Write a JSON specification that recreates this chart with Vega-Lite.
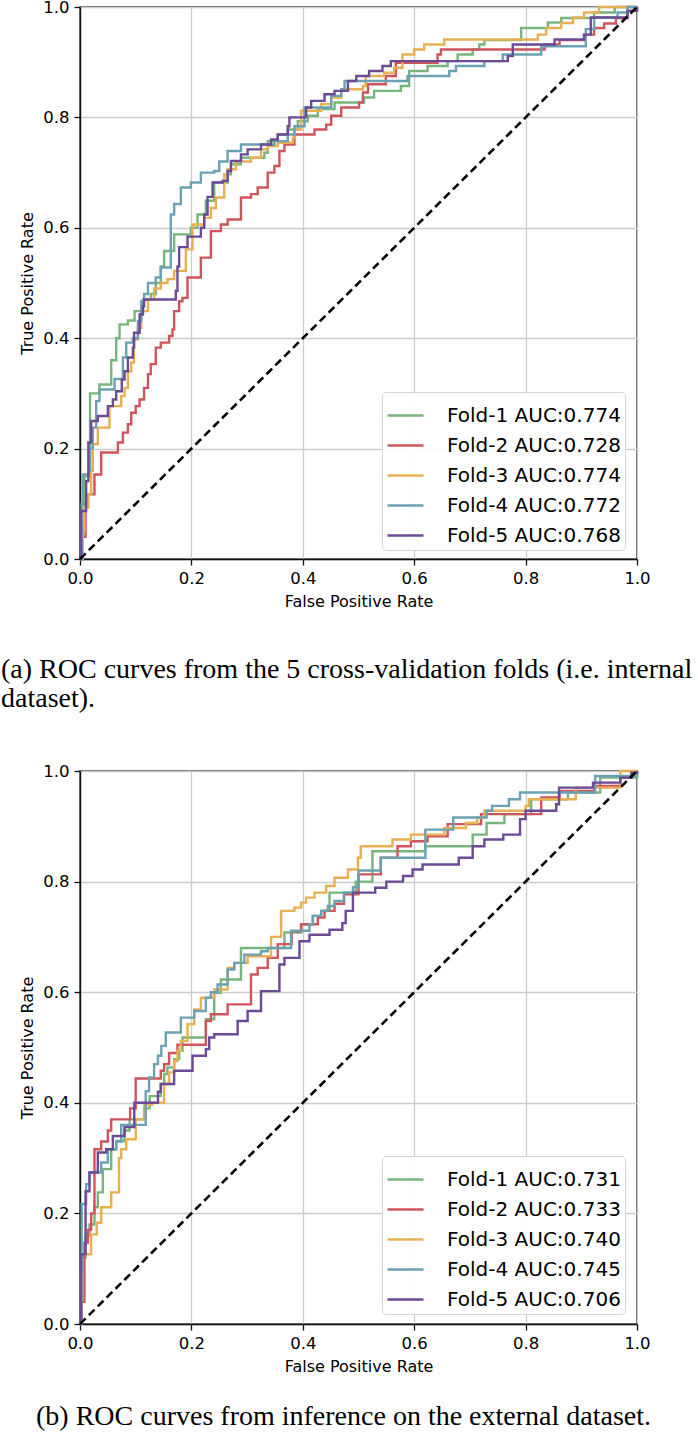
{
  "$schema": "https://vega.github.io/schema/vega-lite/v6.json",
  "padding": {"left": 0, "top": -2, "right": 0, "bottom": 0},
  "background": "white",
  "config": {
    "font": "DejaVu Sans",
    "view": {"stroke": "#333333", "strokeWidth": 1.5},
    "axis": {
      "grid": true, "gridColor": "#cccccc", "gridWidth": 1.3,
      "domain": true, "domainColor": "#111111", "domainWidth": 1.4,
      "tickColor": "#111111", "tickSize": 6, "tickWidth": 1.3,
      "labelFont": "DejaVu Sans", "labelFontSize": 16.5, "labelColor": "#000000", "labelPadding": 5, "labelFlush": false,
      "titleFont": "DejaVu Sans", "titleFontSize": 16, "titleFontWeight": "normal", "titleColor": "#000000"
    },
    "legend": {
      "orient": "none", "legendX": 302, "legendY": 385,
      "labelFont": "DejaVu Sans", "labelFontSize": 20, "labelColor": "#000000", "labelLimit": 400,
      "symbolType": "stroke", "symbolSize": 1296, "symbolStrokeWidth": 2.6,
      "labelOffset": 22, "rowPadding": -6.8, "padding": 4,
      "fillColor": "rgba(255,255,255,0.9)", "strokeColor": "#d4d4d4", "cornerRadius": 4
    },
    "title": {"font": "Liberation Serif", "fontWeight": "normal", "color": "#000000", "frame": "group"}
  },
  "datasets": {
    "diag": [{"fpr": 0, "tpr": 0}, {"fpr": 1, "tpr": 1}],
    "a": [
      {"fold": "Fold-1 AUC:0.774", "fpr": 0, "tpr": 0},
      {"fold": "Fold-1 AUC:0.774", "fpr": 0.005, "tpr": 0.06},
      {"fold": "Fold-1 AUC:0.774", "fpr": 0.008, "tpr": 0.15},
      {"fold": "Fold-1 AUC:0.774", "fpr": 0.018, "tpr": 0.30},
      {"fold": "Fold-1 AUC:0.774", "fpr": 0.035, "tpr": 0.316},
      {"fold": "Fold-1 AUC:0.774", "fpr": 0.056, "tpr": 0.36},
      {"fold": "Fold-1 AUC:0.774", "fpr": 0.065, "tpr": 0.40},
      {"fold": "Fold-1 AUC:0.774", "fpr": 0.071, "tpr": 0.425},
      {"fold": "Fold-1 AUC:0.774", "fpr": 0.086, "tpr": 0.432},
      {"fold": "Fold-1 AUC:0.774", "fpr": 0.098, "tpr": 0.449},
      {"fold": "Fold-1 AUC:0.774", "fpr": 0.113, "tpr": 0.47},
      {"fold": "Fold-1 AUC:0.774", "fpr": 0.127, "tpr": 0.48},
      {"fold": "Fold-1 AUC:0.774", "fpr": 0.136, "tpr": 0.50},
      {"fold": "Fold-1 AUC:0.774", "fpr": 0.145, "tpr": 0.53},
      {"fold": "Fold-1 AUC:0.774", "fpr": 0.151, "tpr": 0.558},
      {"fold": "Fold-1 AUC:0.774", "fpr": 0.169, "tpr": 0.588},
      {"fold": "Fold-1 AUC:0.774", "fpr": 0.199, "tpr": 0.60},
      {"fold": "Fold-1 AUC:0.774", "fpr": 0.211, "tpr": 0.624},
      {"fold": "Fold-1 AUC:0.774", "fpr": 0.226, "tpr": 0.649},
      {"fold": "Fold-1 AUC:0.774", "fpr": 0.241, "tpr": 0.682},
      {"fold": "Fold-1 AUC:0.774", "fpr": 0.265, "tpr": 0.697},
      {"fold": "Fold-1 AUC:0.774", "fpr": 0.271, "tpr": 0.715},
      {"fold": "Fold-1 AUC:0.774", "fpr": 0.289, "tpr": 0.727},
      {"fold": "Fold-1 AUC:0.774", "fpr": 0.331, "tpr": 0.736},
      {"fold": "Fold-1 AUC:0.774", "fpr": 0.337, "tpr": 0.757},
      {"fold": "Fold-1 AUC:0.774", "fpr": 0.355, "tpr": 0.769},
      {"fold": "Fold-1 AUC:0.774", "fpr": 0.373, "tpr": 0.778},
      {"fold": "Fold-1 AUC:0.774", "fpr": 0.391, "tpr": 0.793},
      {"fold": "Fold-1 AUC:0.774", "fpr": 0.409, "tpr": 0.803},
      {"fold": "Fold-1 AUC:0.774", "fpr": 0.427, "tpr": 0.815},
      {"fold": "Fold-1 AUC:0.774", "fpr": 0.457, "tpr": 0.827},
      {"fold": "Fold-1 AUC:0.774", "fpr": 0.51, "tpr": 0.836},
      {"fold": "Fold-1 AUC:0.774", "fpr": 0.528, "tpr": 0.848},
      {"fold": "Fold-1 AUC:0.774", "fpr": 0.576, "tpr": 0.857},
      {"fold": "Fold-1 AUC:0.774", "fpr": 0.591, "tpr": 0.884},
      {"fold": "Fold-1 AUC:0.774", "fpr": 0.624, "tpr": 0.893},
      {"fold": "Fold-1 AUC:0.774", "fpr": 0.66, "tpr": 0.902},
      {"fold": "Fold-1 AUC:0.774", "fpr": 0.678, "tpr": 0.914},
      {"fold": "Fold-1 AUC:0.774", "fpr": 0.705, "tpr": 0.923},
      {"fold": "Fold-1 AUC:0.774", "fpr": 0.717, "tpr": 0.932},
      {"fold": "Fold-1 AUC:0.774", "fpr": 0.726, "tpr": 0.94},
      {"fold": "Fold-1 AUC:0.774", "fpr": 0.792, "tpr": 0.962},
      {"fold": "Fold-1 AUC:0.774", "fpr": 0.84, "tpr": 0.972},
      {"fold": "Fold-1 AUC:0.774", "fpr": 0.864, "tpr": 0.98},
      {"fold": "Fold-1 AUC:0.774", "fpr": 0.923, "tpr": 0.99},
      {"fold": "Fold-1 AUC:0.774", "fpr": 0.96, "tpr": 1.0},
      {"fold": "Fold-1 AUC:0.774", "fpr": 1, "tpr": 1},

      {"fold": "Fold-2 AUC:0.728", "fpr": 0, "tpr": 0},
      {"fold": "Fold-2 AUC:0.728", "fpr": 0.005, "tpr": 0.04},
      {"fold": "Fold-2 AUC:0.728", "fpr": 0.01, "tpr": 0.10},
      {"fold": "Fold-2 AUC:0.728", "fpr": 0.014, "tpr": 0.117},
      {"fold": "Fold-2 AUC:0.728", "fpr": 0.026, "tpr": 0.153},
      {"fold": "Fold-2 AUC:0.728", "fpr": 0.038, "tpr": 0.193},
      {"fold": "Fold-2 AUC:0.728", "fpr": 0.068, "tpr": 0.211},
      {"fold": "Fold-2 AUC:0.728", "fpr": 0.077, "tpr": 0.229},
      {"fold": "Fold-2 AUC:0.728", "fpr": 0.086, "tpr": 0.244},
      {"fold": "Fold-2 AUC:0.728", "fpr": 0.092, "tpr": 0.265},
      {"fold": "Fold-2 AUC:0.728", "fpr": 0.10, "tpr": 0.277},
      {"fold": "Fold-2 AUC:0.728", "fpr": 0.107, "tpr": 0.289},
      {"fold": "Fold-2 AUC:0.728", "fpr": 0.115, "tpr": 0.31},
      {"fold": "Fold-2 AUC:0.728", "fpr": 0.122, "tpr": 0.335},
      {"fold": "Fold-2 AUC:0.728", "fpr": 0.127, "tpr": 0.353},
      {"fold": "Fold-2 AUC:0.728", "fpr": 0.136, "tpr": 0.383},
      {"fold": "Fold-2 AUC:0.728", "fpr": 0.145, "tpr": 0.392},
      {"fold": "Fold-2 AUC:0.728", "fpr": 0.16, "tpr": 0.404},
      {"fold": "Fold-2 AUC:0.728", "fpr": 0.166, "tpr": 0.416},
      {"fold": "Fold-2 AUC:0.728", "fpr": 0.169, "tpr": 0.449},
      {"fold": "Fold-2 AUC:0.728", "fpr": 0.178, "tpr": 0.467},
      {"fold": "Fold-2 AUC:0.728", "fpr": 0.184, "tpr": 0.473},
      {"fold": "Fold-2 AUC:0.728", "fpr": 0.193, "tpr": 0.51},
      {"fold": "Fold-2 AUC:0.728", "fpr": 0.217, "tpr": 0.546},
      {"fold": "Fold-2 AUC:0.728", "fpr": 0.235, "tpr": 0.594},
      {"fold": "Fold-2 AUC:0.728", "fpr": 0.253, "tpr": 0.606},
      {"fold": "Fold-2 AUC:0.728", "fpr": 0.265, "tpr": 0.615},
      {"fold": "Fold-2 AUC:0.728", "fpr": 0.289, "tpr": 0.655},
      {"fold": "Fold-2 AUC:0.728", "fpr": 0.307, "tpr": 0.661},
      {"fold": "Fold-2 AUC:0.728", "fpr": 0.319, "tpr": 0.673},
      {"fold": "Fold-2 AUC:0.728", "fpr": 0.337, "tpr": 0.70},
      {"fold": "Fold-2 AUC:0.728", "fpr": 0.349, "tpr": 0.712},
      {"fold": "Fold-2 AUC:0.728", "fpr": 0.358, "tpr": 0.739},
      {"fold": "Fold-2 AUC:0.728", "fpr": 0.367, "tpr": 0.751},
      {"fold": "Fold-2 AUC:0.728", "fpr": 0.385, "tpr": 0.769},
      {"fold": "Fold-2 AUC:0.728", "fpr": 0.421, "tpr": 0.778},
      {"fold": "Fold-2 AUC:0.728", "fpr": 0.442, "tpr": 0.787},
      {"fold": "Fold-2 AUC:0.728", "fpr": 0.451, "tpr": 0.803},
      {"fold": "Fold-2 AUC:0.728", "fpr": 0.469, "tpr": 0.818},
      {"fold": "Fold-2 AUC:0.728", "fpr": 0.501, "tpr": 0.827},
      {"fold": "Fold-2 AUC:0.728", "fpr": 0.508, "tpr": 0.845},
      {"fold": "Fold-2 AUC:0.728", "fpr": 0.517, "tpr": 0.86},
      {"fold": "Fold-2 AUC:0.728", "fpr": 0.549, "tpr": 0.875},
      {"fold": "Fold-2 AUC:0.728", "fpr": 0.567, "tpr": 0.899},
      {"fold": "Fold-2 AUC:0.728", "fpr": 0.642, "tpr": 0.914},
      {"fold": "Fold-2 AUC:0.728", "fpr": 0.648, "tpr": 0.923},
      {"fold": "Fold-2 AUC:0.728", "fpr": 0.834, "tpr": 0.932},
      {"fold": "Fold-2 AUC:0.728", "fpr": 0.861, "tpr": 0.94},
      {"fold": "Fold-2 AUC:0.728", "fpr": 0.905, "tpr": 0.95},
      {"fold": "Fold-2 AUC:0.728", "fpr": 0.923, "tpr": 0.962},
      {"fold": "Fold-2 AUC:0.728", "fpr": 0.941, "tpr": 0.97},
      {"fold": "Fold-2 AUC:0.728", "fpr": 0.962, "tpr": 0.98},
      {"fold": "Fold-2 AUC:0.728", "fpr": 0.983, "tpr": 0.993},
      {"fold": "Fold-2 AUC:0.728", "fpr": 1, "tpr": 1},

      {"fold": "Fold-3 AUC:0.774", "fpr": 0, "tpr": 0},
      {"fold": "Fold-3 AUC:0.774", "fpr": 0.005, "tpr": 0.05},
      {"fold": "Fold-3 AUC:0.774", "fpr": 0.008, "tpr": 0.093},
      {"fold": "Fold-3 AUC:0.774", "fpr": 0.015, "tpr": 0.117},
      {"fold": "Fold-3 AUC:0.774", "fpr": 0.02, "tpr": 0.16},
      {"fold": "Fold-3 AUC:0.774", "fpr": 0.023, "tpr": 0.208},
      {"fold": "Fold-3 AUC:0.774", "fpr": 0.032, "tpr": 0.238},
      {"fold": "Fold-3 AUC:0.774", "fpr": 0.053, "tpr": 0.277},
      {"fold": "Fold-3 AUC:0.774", "fpr": 0.074, "tpr": 0.295},
      {"fold": "Fold-3 AUC:0.774", "fpr": 0.08, "tpr": 0.31},
      {"fold": "Fold-3 AUC:0.774", "fpr": 0.086, "tpr": 0.34},
      {"fold": "Fold-3 AUC:0.774", "fpr": 0.092, "tpr": 0.356},
      {"fold": "Fold-3 AUC:0.774", "fpr": 0.097, "tpr": 0.398},
      {"fold": "Fold-3 AUC:0.774", "fpr": 0.104, "tpr": 0.419},
      {"fold": "Fold-3 AUC:0.774", "fpr": 0.11, "tpr": 0.449},
      {"fold": "Fold-3 AUC:0.774", "fpr": 0.122, "tpr": 0.47},
      {"fold": "Fold-3 AUC:0.774", "fpr": 0.133, "tpr": 0.49},
      {"fold": "Fold-3 AUC:0.774", "fpr": 0.145, "tpr": 0.50},
      {"fold": "Fold-3 AUC:0.774", "fpr": 0.157, "tpr": 0.507},
      {"fold": "Fold-3 AUC:0.774", "fpr": 0.169, "tpr": 0.522},
      {"fold": "Fold-3 AUC:0.774", "fpr": 0.19, "tpr": 0.561},
      {"fold": "Fold-3 AUC:0.774", "fpr": 0.202, "tpr": 0.606},
      {"fold": "Fold-3 AUC:0.774", "fpr": 0.223, "tpr": 0.618},
      {"fold": "Fold-3 AUC:0.774", "fpr": 0.235, "tpr": 0.636},
      {"fold": "Fold-3 AUC:0.774", "fpr": 0.244, "tpr": 0.655},
      {"fold": "Fold-3 AUC:0.774", "fpr": 0.259, "tpr": 0.697},
      {"fold": "Fold-3 AUC:0.774", "fpr": 0.265, "tpr": 0.706},
      {"fold": "Fold-3 AUC:0.774", "fpr": 0.28, "tpr": 0.72},
      {"fold": "Fold-3 AUC:0.774", "fpr": 0.307, "tpr": 0.727},
      {"fold": "Fold-3 AUC:0.774", "fpr": 0.325, "tpr": 0.742},
      {"fold": "Fold-3 AUC:0.774", "fpr": 0.337, "tpr": 0.748},
      {"fold": "Fold-3 AUC:0.774", "fpr": 0.355, "tpr": 0.754},
      {"fold": "Fold-3 AUC:0.774", "fpr": 0.382, "tpr": 0.763},
      {"fold": "Fold-3 AUC:0.774", "fpr": 0.385, "tpr": 0.778},
      {"fold": "Fold-3 AUC:0.774", "fpr": 0.397, "tpr": 0.812},
      {"fold": "Fold-3 AUC:0.774", "fpr": 0.433, "tpr": 0.824},
      {"fold": "Fold-3 AUC:0.774", "fpr": 0.451, "tpr": 0.836},
      {"fold": "Fold-3 AUC:0.774", "fpr": 0.469, "tpr": 0.851},
      {"fold": "Fold-3 AUC:0.774", "fpr": 0.508, "tpr": 0.857},
      {"fold": "Fold-3 AUC:0.774", "fpr": 0.513, "tpr": 0.875},
      {"fold": "Fold-3 AUC:0.774", "fpr": 0.546, "tpr": 0.881},
      {"fold": "Fold-3 AUC:0.774", "fpr": 0.564, "tpr": 0.89},
      {"fold": "Fold-3 AUC:0.774", "fpr": 0.579, "tpr": 0.914},
      {"fold": "Fold-3 AUC:0.774", "fpr": 0.6, "tpr": 0.923},
      {"fold": "Fold-3 AUC:0.774", "fpr": 0.618, "tpr": 0.932},
      {"fold": "Fold-3 AUC:0.774", "fpr": 0.654, "tpr": 0.941},
      {"fold": "Fold-3 AUC:0.774", "fpr": 0.822, "tpr": 0.95},
      {"fold": "Fold-3 AUC:0.774", "fpr": 0.837, "tpr": 0.962},
      {"fold": "Fold-3 AUC:0.774", "fpr": 0.864, "tpr": 0.971},
      {"fold": "Fold-3 AUC:0.774", "fpr": 0.885, "tpr": 0.981},
      {"fold": "Fold-3 AUC:0.774", "fpr": 0.905, "tpr": 0.99},
      {"fold": "Fold-3 AUC:0.774", "fpr": 0.932, "tpr": 1.0},
      {"fold": "Fold-3 AUC:0.774", "fpr": 1, "tpr": 1},

      {"fold": "Fold-4 AUC:0.772", "fpr": 0, "tpr": 0},
      {"fold": "Fold-4 AUC:0.772", "fpr": 0.003, "tpr": 0.10},
      {"fold": "Fold-4 AUC:0.772", "fpr": 0.005, "tpr": 0.153},
      {"fold": "Fold-4 AUC:0.772", "fpr": 0.015, "tpr": 0.16},
      {"fold": "Fold-4 AUC:0.772", "fpr": 0.018, "tpr": 0.20},
      {"fold": "Fold-4 AUC:0.772", "fpr": 0.023, "tpr": 0.238},
      {"fold": "Fold-4 AUC:0.772", "fpr": 0.029, "tpr": 0.286},
      {"fold": "Fold-4 AUC:0.772", "fpr": 0.035, "tpr": 0.307},
      {"fold": "Fold-4 AUC:0.772", "fpr": 0.062, "tpr": 0.326},
      {"fold": "Fold-4 AUC:0.772", "fpr": 0.077, "tpr": 0.365},
      {"fold": "Fold-4 AUC:0.772", "fpr": 0.083, "tpr": 0.392},
      {"fold": "Fold-4 AUC:0.772", "fpr": 0.095, "tpr": 0.40},
      {"fold": "Fold-4 AUC:0.772", "fpr": 0.104, "tpr": 0.431},
      {"fold": "Fold-4 AUC:0.772", "fpr": 0.11, "tpr": 0.467},
      {"fold": "Fold-4 AUC:0.772", "fpr": 0.115, "tpr": 0.48},
      {"fold": "Fold-4 AUC:0.772", "fpr": 0.122, "tpr": 0.50},
      {"fold": "Fold-4 AUC:0.772", "fpr": 0.136, "tpr": 0.51},
      {"fold": "Fold-4 AUC:0.772", "fpr": 0.145, "tpr": 0.528},
      {"fold": "Fold-4 AUC:0.772", "fpr": 0.163, "tpr": 0.624},
      {"fold": "Fold-4 AUC:0.772", "fpr": 0.169, "tpr": 0.643},
      {"fold": "Fold-4 AUC:0.772", "fpr": 0.181, "tpr": 0.673},
      {"fold": "Fold-4 AUC:0.772", "fpr": 0.199, "tpr": 0.682},
      {"fold": "Fold-4 AUC:0.772", "fpr": 0.217, "tpr": 0.70},
      {"fold": "Fold-4 AUC:0.772", "fpr": 0.241, "tpr": 0.703},
      {"fold": "Fold-4 AUC:0.772", "fpr": 0.25, "tpr": 0.72},
      {"fold": "Fold-4 AUC:0.772", "fpr": 0.265, "tpr": 0.739},
      {"fold": "Fold-4 AUC:0.772", "fpr": 0.289, "tpr": 0.751},
      {"fold": "Fold-4 AUC:0.772", "fpr": 0.349, "tpr": 0.757},
      {"fold": "Fold-4 AUC:0.772", "fpr": 0.373, "tpr": 0.769},
      {"fold": "Fold-4 AUC:0.772", "fpr": 0.385, "tpr": 0.784},
      {"fold": "Fold-4 AUC:0.772", "fpr": 0.403, "tpr": 0.818},
      {"fold": "Fold-4 AUC:0.772", "fpr": 0.451, "tpr": 0.839},
      {"fold": "Fold-4 AUC:0.772", "fpr": 0.469, "tpr": 0.851},
      {"fold": "Fold-4 AUC:0.772", "fpr": 0.475, "tpr": 0.866},
      {"fold": "Fold-4 AUC:0.772", "fpr": 0.588, "tpr": 0.875},
      {"fold": "Fold-4 AUC:0.772", "fpr": 0.663, "tpr": 0.884},
      {"fold": "Fold-4 AUC:0.772", "fpr": 0.675, "tpr": 0.893},
      {"fold": "Fold-4 AUC:0.772", "fpr": 0.726, "tpr": 0.902},
      {"fold": "Fold-4 AUC:0.772", "fpr": 0.759, "tpr": 0.914},
      {"fold": "Fold-4 AUC:0.772", "fpr": 0.828, "tpr": 0.929},
      {"fold": "Fold-4 AUC:0.772", "fpr": 0.908, "tpr": 0.96},
      {"fold": "Fold-4 AUC:0.772", "fpr": 0.923, "tpr": 0.981},
      {"fold": "Fold-4 AUC:0.772", "fpr": 0.965, "tpr": 0.99},
      {"fold": "Fold-4 AUC:0.772", "fpr": 0.983, "tpr": 1.0},
      {"fold": "Fold-4 AUC:0.772", "fpr": 1, "tpr": 1},

      {"fold": "Fold-5 AUC:0.768", "fpr": 0, "tpr": 0},
      {"fold": "Fold-5 AUC:0.768", "fpr": 0.002, "tpr": 0.087},
      {"fold": "Fold-5 AUC:0.768", "fpr": 0.011, "tpr": 0.141},
      {"fold": "Fold-5 AUC:0.768", "fpr": 0.015, "tpr": 0.211},
      {"fold": "Fold-5 AUC:0.768", "fpr": 0.02, "tpr": 0.25},
      {"fold": "Fold-5 AUC:0.768", "fpr": 0.032, "tpr": 0.259},
      {"fold": "Fold-5 AUC:0.768", "fpr": 0.05, "tpr": 0.277},
      {"fold": "Fold-5 AUC:0.768", "fpr": 0.059, "tpr": 0.289},
      {"fold": "Fold-5 AUC:0.768", "fpr": 0.065, "tpr": 0.304},
      {"fold": "Fold-5 AUC:0.768", "fpr": 0.075, "tpr": 0.325},
      {"fold": "Fold-5 AUC:0.768", "fpr": 0.08, "tpr": 0.34},
      {"fold": "Fold-5 AUC:0.768", "fpr": 0.086, "tpr": 0.365},
      {"fold": "Fold-5 AUC:0.768", "fpr": 0.095, "tpr": 0.383},
      {"fold": "Fold-5 AUC:0.768", "fpr": 0.097, "tpr": 0.41},
      {"fold": "Fold-5 AUC:0.768", "fpr": 0.107, "tpr": 0.443},
      {"fold": "Fold-5 AUC:0.768", "fpr": 0.113, "tpr": 0.458},
      {"fold": "Fold-5 AUC:0.768", "fpr": 0.115, "tpr": 0.47},
      {"fold": "Fold-5 AUC:0.768", "fpr": 0.172, "tpr": 0.486},
      {"fold": "Fold-5 AUC:0.768", "fpr": 0.175, "tpr": 0.53},
      {"fold": "Fold-5 AUC:0.768", "fpr": 0.178, "tpr": 0.565},
      {"fold": "Fold-5 AUC:0.768", "fpr": 0.193, "tpr": 0.584},
      {"fold": "Fold-5 AUC:0.768", "fpr": 0.217, "tpr": 0.60},
      {"fold": "Fold-5 AUC:0.768", "fpr": 0.223, "tpr": 0.624},
      {"fold": "Fold-5 AUC:0.768", "fpr": 0.229, "tpr": 0.656},
      {"fold": "Fold-5 AUC:0.768", "fpr": 0.238, "tpr": 0.682},
      {"fold": "Fold-5 AUC:0.768", "fpr": 0.256, "tpr": 0.685},
      {"fold": "Fold-5 AUC:0.768", "fpr": 0.265, "tpr": 0.703},
      {"fold": "Fold-5 AUC:0.768", "fpr": 0.271, "tpr": 0.721},
      {"fold": "Fold-5 AUC:0.768", "fpr": 0.289, "tpr": 0.733},
      {"fold": "Fold-5 AUC:0.768", "fpr": 0.301, "tpr": 0.742},
      {"fold": "Fold-5 AUC:0.768", "fpr": 0.325, "tpr": 0.751},
      {"fold": "Fold-5 AUC:0.768", "fpr": 0.343, "tpr": 0.76},
      {"fold": "Fold-5 AUC:0.768", "fpr": 0.355, "tpr": 0.769},
      {"fold": "Fold-5 AUC:0.768", "fpr": 0.373, "tpr": 0.784},
      {"fold": "Fold-5 AUC:0.768", "fpr": 0.376, "tpr": 0.80},
      {"fold": "Fold-5 AUC:0.768", "fpr": 0.406, "tpr": 0.818},
      {"fold": "Fold-5 AUC:0.768", "fpr": 0.415, "tpr": 0.83},
      {"fold": "Fold-5 AUC:0.768", "fpr": 0.439, "tpr": 0.842},
      {"fold": "Fold-5 AUC:0.768", "fpr": 0.457, "tpr": 0.848},
      {"fold": "Fold-5 AUC:0.768", "fpr": 0.481, "tpr": 0.866},
      {"fold": "Fold-5 AUC:0.768", "fpr": 0.496, "tpr": 0.875},
      {"fold": "Fold-5 AUC:0.768", "fpr": 0.519, "tpr": 0.884},
      {"fold": "Fold-5 AUC:0.768", "fpr": 0.543, "tpr": 0.893},
      {"fold": "Fold-5 AUC:0.768", "fpr": 0.558, "tpr": 0.902},
      {"fold": "Fold-5 AUC:0.768", "fpr": 0.768, "tpr": 0.911},
      {"fold": "Fold-5 AUC:0.768", "fpr": 0.777, "tpr": 0.932},
      {"fold": "Fold-5 AUC:0.768", "fpr": 0.852, "tpr": 0.941},
      {"fold": "Fold-5 AUC:0.768", "fpr": 0.905, "tpr": 0.95},
      {"fold": "Fold-5 AUC:0.768", "fpr": 0.917, "tpr": 0.981},
      {"fold": "Fold-5 AUC:0.768", "fpr": 0.983, "tpr": 0.993},
      {"fold": "Fold-5 AUC:0.768", "fpr": 1, "tpr": 1}
    ],
    "b": [
      {"fold": "Fold-1 AUC:0.731", "fpr": 0, "tpr": 0},
      {"fold": "Fold-1 AUC:0.731", "fpr": 0.003, "tpr": 0.12},
      {"fold": "Fold-1 AUC:0.731", "fpr": 0.01, "tpr": 0.16},
      {"fold": "Fold-1 AUC:0.731", "fpr": 0.017, "tpr": 0.18},
      {"fold": "Fold-1 AUC:0.731", "fpr": 0.026, "tpr": 0.211},
      {"fold": "Fold-1 AUC:0.731", "fpr": 0.032, "tpr": 0.238},
      {"fold": "Fold-1 AUC:0.731", "fpr": 0.041, "tpr": 0.28},
      {"fold": "Fold-1 AUC:0.731", "fpr": 0.056, "tpr": 0.316},
      {"fold": "Fold-1 AUC:0.731", "fpr": 0.065, "tpr": 0.331},
      {"fold": "Fold-1 AUC:0.731", "fpr": 0.08, "tpr": 0.35},
      {"fold": "Fold-1 AUC:0.731", "fpr": 0.089, "tpr": 0.37},
      {"fold": "Fold-1 AUC:0.731", "fpr": 0.115, "tpr": 0.39},
      {"fold": "Fold-1 AUC:0.731", "fpr": 0.125, "tpr": 0.412},
      {"fold": "Fold-1 AUC:0.731", "fpr": 0.145, "tpr": 0.434},
      {"fold": "Fold-1 AUC:0.731", "fpr": 0.151, "tpr": 0.452},
      {"fold": "Fold-1 AUC:0.731", "fpr": 0.157, "tpr": 0.464},
      {"fold": "Fold-1 AUC:0.731", "fpr": 0.169, "tpr": 0.479},
      {"fold": "Fold-1 AUC:0.731", "fpr": 0.178, "tpr": 0.494},
      {"fold": "Fold-1 AUC:0.731", "fpr": 0.184, "tpr": 0.518},
      {"fold": "Fold-1 AUC:0.731", "fpr": 0.226, "tpr": 0.551},
      {"fold": "Fold-1 AUC:0.731", "fpr": 0.241, "tpr": 0.599},
      {"fold": "Fold-1 AUC:0.731", "fpr": 0.253, "tpr": 0.623},
      {"fold": "Fold-1 AUC:0.731", "fpr": 0.289, "tpr": 0.68},
      {"fold": "Fold-1 AUC:0.731", "fpr": 0.367, "tpr": 0.708},
      {"fold": "Fold-1 AUC:0.731", "fpr": 0.397, "tpr": 0.723},
      {"fold": "Fold-1 AUC:0.731", "fpr": 0.418, "tpr": 0.738},
      {"fold": "Fold-1 AUC:0.731", "fpr": 0.433, "tpr": 0.747},
      {"fold": "Fold-1 AUC:0.731", "fpr": 0.448, "tpr": 0.78},
      {"fold": "Fold-1 AUC:0.731", "fpr": 0.495, "tpr": 0.80},
      {"fold": "Fold-1 AUC:0.731", "fpr": 0.525, "tpr": 0.855},
      {"fold": "Fold-1 AUC:0.731", "fpr": 0.62, "tpr": 0.864},
      {"fold": "Fold-1 AUC:0.731", "fpr": 0.705, "tpr": 0.885},
      {"fold": "Fold-1 AUC:0.731", "fpr": 0.73, "tpr": 0.906},
      {"fold": "Fold-1 AUC:0.731", "fpr": 0.762, "tpr": 0.922},
      {"fold": "Fold-1 AUC:0.731", "fpr": 0.81, "tpr": 0.949},
      {"fold": "Fold-1 AUC:0.731", "fpr": 0.876, "tpr": 0.961},
      {"fold": "Fold-1 AUC:0.731", "fpr": 0.934, "tpr": 0.988},
      {"fold": "Fold-1 AUC:0.731", "fpr": 1, "tpr": 1},

      {"fold": "Fold-2 AUC:0.733", "fpr": 0, "tpr": 0},
      {"fold": "Fold-2 AUC:0.733", "fpr": 0.002, "tpr": 0.04},
      {"fold": "Fold-2 AUC:0.733", "fpr": 0.008, "tpr": 0.147},
      {"fold": "Fold-2 AUC:0.733", "fpr": 0.014, "tpr": 0.17},
      {"fold": "Fold-2 AUC:0.733", "fpr": 0.02, "tpr": 0.2},
      {"fold": "Fold-2 AUC:0.733", "fpr": 0.026, "tpr": 0.316},
      {"fold": "Fold-2 AUC:0.733", "fpr": 0.038, "tpr": 0.33},
      {"fold": "Fold-2 AUC:0.733", "fpr": 0.05, "tpr": 0.35},
      {"fold": "Fold-2 AUC:0.733", "fpr": 0.056, "tpr": 0.37},
      {"fold": "Fold-2 AUC:0.733", "fpr": 0.09, "tpr": 0.39},
      {"fold": "Fold-2 AUC:0.733", "fpr": 0.1, "tpr": 0.444},
      {"fold": "Fold-2 AUC:0.733", "fpr": 0.145, "tpr": 0.458},
      {"fold": "Fold-2 AUC:0.733", "fpr": 0.151, "tpr": 0.47},
      {"fold": "Fold-2 AUC:0.733", "fpr": 0.16, "tpr": 0.49},
      {"fold": "Fold-2 AUC:0.733", "fpr": 0.175, "tpr": 0.505},
      {"fold": "Fold-2 AUC:0.733", "fpr": 0.226, "tpr": 0.548},
      {"fold": "Fold-2 AUC:0.733", "fpr": 0.235, "tpr": 0.56},
      {"fold": "Fold-2 AUC:0.733", "fpr": 0.265, "tpr": 0.578},
      {"fold": "Fold-2 AUC:0.733", "fpr": 0.307, "tpr": 0.632},
      {"fold": "Fold-2 AUC:0.733", "fpr": 0.319, "tpr": 0.644},
      {"fold": "Fold-2 AUC:0.733", "fpr": 0.337, "tpr": 0.662},
      {"fold": "Fold-2 AUC:0.733", "fpr": 0.355, "tpr": 0.687},
      {"fold": "Fold-2 AUC:0.733", "fpr": 0.38, "tpr": 0.71},
      {"fold": "Fold-2 AUC:0.733", "fpr": 0.397, "tpr": 0.723},
      {"fold": "Fold-2 AUC:0.733", "fpr": 0.427, "tpr": 0.735},
      {"fold": "Fold-2 AUC:0.733", "fpr": 0.439, "tpr": 0.747},
      {"fold": "Fold-2 AUC:0.733", "fpr": 0.457, "tpr": 0.76},
      {"fold": "Fold-2 AUC:0.733", "fpr": 0.474, "tpr": 0.777},
      {"fold": "Fold-2 AUC:0.733", "fpr": 0.50, "tpr": 0.813},
      {"fold": "Fold-2 AUC:0.733", "fpr": 0.54, "tpr": 0.843},
      {"fold": "Fold-2 AUC:0.733", "fpr": 0.57, "tpr": 0.864},
      {"fold": "Fold-2 AUC:0.733", "fpr": 0.594, "tpr": 0.873},
      {"fold": "Fold-2 AUC:0.733", "fpr": 0.624, "tpr": 0.882},
      {"fold": "Fold-2 AUC:0.733", "fpr": 0.66, "tpr": 0.904},
      {"fold": "Fold-2 AUC:0.733", "fpr": 0.72, "tpr": 0.922},
      {"fold": "Fold-2 AUC:0.733", "fpr": 0.828, "tpr": 0.952},
      {"fold": "Fold-2 AUC:0.733", "fpr": 0.861, "tpr": 0.964},
      {"fold": "Fold-2 AUC:0.733", "fpr": 0.923, "tpr": 0.973},
      {"fold": "Fold-2 AUC:0.733", "fpr": 0.97, "tpr": 0.988},
      {"fold": "Fold-2 AUC:0.733", "fpr": 0.99, "tpr": 0.997},
      {"fold": "Fold-2 AUC:0.733", "fpr": 1, "tpr": 1},

      {"fold": "Fold-3 AUC:0.740", "fpr": 0, "tpr": 0},
      {"fold": "Fold-3 AUC:0.740", "fpr": 0.002, "tpr": 0.126},
      {"fold": "Fold-3 AUC:0.740", "fpr": 0.02, "tpr": 0.162},
      {"fold": "Fold-3 AUC:0.740", "fpr": 0.03, "tpr": 0.183},
      {"fold": "Fold-3 AUC:0.740", "fpr": 0.038, "tpr": 0.211},
      {"fold": "Fold-3 AUC:0.740", "fpr": 0.056, "tpr": 0.238},
      {"fold": "Fold-3 AUC:0.740", "fpr": 0.07, "tpr": 0.30},
      {"fold": "Fold-3 AUC:0.740", "fpr": 0.074, "tpr": 0.316},
      {"fold": "Fold-3 AUC:0.740", "fpr": 0.083, "tpr": 0.334},
      {"fold": "Fold-3 AUC:0.740", "fpr": 0.1, "tpr": 0.37},
      {"fold": "Fold-3 AUC:0.740", "fpr": 0.1155, "tpr": 0.397},
      {"fold": "Fold-3 AUC:0.740", "fpr": 0.13, "tpr": 0.40},
      {"fold": "Fold-3 AUC:0.740", "fpr": 0.151, "tpr": 0.434},
      {"fold": "Fold-3 AUC:0.740", "fpr": 0.16, "tpr": 0.455},
      {"fold": "Fold-3 AUC:0.740", "fpr": 0.169, "tpr": 0.476},
      {"fold": "Fold-3 AUC:0.740", "fpr": 0.175, "tpr": 0.494},
      {"fold": "Fold-3 AUC:0.740", "fpr": 0.181, "tpr": 0.512},
      {"fold": "Fold-3 AUC:0.740", "fpr": 0.193, "tpr": 0.542},
      {"fold": "Fold-3 AUC:0.740", "fpr": 0.205, "tpr": 0.569},
      {"fold": "Fold-3 AUC:0.740", "fpr": 0.217, "tpr": 0.59},
      {"fold": "Fold-3 AUC:0.740", "fpr": 0.241, "tpr": 0.605},
      {"fold": "Fold-3 AUC:0.740", "fpr": 0.265, "tpr": 0.644},
      {"fold": "Fold-3 AUC:0.740", "fpr": 0.277, "tpr": 0.653},
      {"fold": "Fold-3 AUC:0.740", "fpr": 0.301, "tpr": 0.665},
      {"fold": "Fold-3 AUC:0.740", "fpr": 0.343, "tpr": 0.70},
      {"fold": "Fold-3 AUC:0.740", "fpr": 0.361, "tpr": 0.747},
      {"fold": "Fold-3 AUC:0.740", "fpr": 0.385, "tpr": 0.753},
      {"fold": "Fold-3 AUC:0.740", "fpr": 0.397, "tpr": 0.762},
      {"fold": "Fold-3 AUC:0.740", "fpr": 0.406, "tpr": 0.771},
      {"fold": "Fold-3 AUC:0.740", "fpr": 0.421, "tpr": 0.78},
      {"fold": "Fold-3 AUC:0.740", "fpr": 0.442, "tpr": 0.792},
      {"fold": "Fold-3 AUC:0.740", "fpr": 0.457, "tpr": 0.807},
      {"fold": "Fold-3 AUC:0.740", "fpr": 0.481, "tpr": 0.822},
      {"fold": "Fold-3 AUC:0.740", "fpr": 0.499, "tpr": 0.843},
      {"fold": "Fold-3 AUC:0.740", "fpr": 0.504, "tpr": 0.864},
      {"fold": "Fold-3 AUC:0.740", "fpr": 0.561, "tpr": 0.876},
      {"fold": "Fold-3 AUC:0.740", "fpr": 0.594, "tpr": 0.885},
      {"fold": "Fold-3 AUC:0.740", "fpr": 0.654, "tpr": 0.897},
      {"fold": "Fold-3 AUC:0.740", "fpr": 0.693, "tpr": 0.906},
      {"fold": "Fold-3 AUC:0.740", "fpr": 0.713, "tpr": 0.916},
      {"fold": "Fold-3 AUC:0.740", "fpr": 0.726, "tpr": 0.928},
      {"fold": "Fold-3 AUC:0.740", "fpr": 0.80, "tpr": 0.937},
      {"fold": "Fold-3 AUC:0.740", "fpr": 0.806, "tpr": 0.949},
      {"fold": "Fold-3 AUC:0.740", "fpr": 0.89, "tpr": 0.97},
      {"fold": "Fold-3 AUC:0.740", "fpr": 0.97, "tpr": 1.0},
      {"fold": "Fold-3 AUC:0.740", "fpr": 1, "tpr": 1},

      {"fold": "Fold-4 AUC:0.745", "fpr": 0, "tpr": 0},
      {"fold": "Fold-4 AUC:0.745", "fpr": 0.002, "tpr": 0.096},
      {"fold": "Fold-4 AUC:0.745", "fpr": 0.003, "tpr": 0.217},
      {"fold": "Fold-4 AUC:0.745", "fpr": 0.011, "tpr": 0.253},
      {"fold": "Fold-4 AUC:0.745", "fpr": 0.017, "tpr": 0.274},
      {"fold": "Fold-4 AUC:0.745", "fpr": 0.038, "tpr": 0.292},
      {"fold": "Fold-4 AUC:0.745", "fpr": 0.05, "tpr": 0.316},
      {"fold": "Fold-4 AUC:0.745", "fpr": 0.065, "tpr": 0.33},
      {"fold": "Fold-4 AUC:0.745", "fpr": 0.074, "tpr": 0.36},
      {"fold": "Fold-4 AUC:0.745", "fpr": 0.118, "tpr": 0.421},
      {"fold": "Fold-4 AUC:0.745", "fpr": 0.124, "tpr": 0.446},
      {"fold": "Fold-4 AUC:0.745", "fpr": 0.133, "tpr": 0.47},
      {"fold": "Fold-4 AUC:0.745", "fpr": 0.14, "tpr": 0.485},
      {"fold": "Fold-4 AUC:0.745", "fpr": 0.146, "tpr": 0.503},
      {"fold": "Fold-4 AUC:0.745", "fpr": 0.154, "tpr": 0.527},
      {"fold": "Fold-4 AUC:0.745", "fpr": 0.181, "tpr": 0.554},
      {"fold": "Fold-4 AUC:0.745", "fpr": 0.205, "tpr": 0.566},
      {"fold": "Fold-4 AUC:0.745", "fpr": 0.226, "tpr": 0.59},
      {"fold": "Fold-4 AUC:0.745", "fpr": 0.235, "tpr": 0.60},
      {"fold": "Fold-4 AUC:0.745", "fpr": 0.247, "tpr": 0.614},
      {"fold": "Fold-4 AUC:0.745", "fpr": 0.265, "tpr": 0.641},
      {"fold": "Fold-4 AUC:0.745", "fpr": 0.277, "tpr": 0.653},
      {"fold": "Fold-4 AUC:0.745", "fpr": 0.295, "tpr": 0.668},
      {"fold": "Fold-4 AUC:0.745", "fpr": 0.325, "tpr": 0.674},
      {"fold": "Fold-4 AUC:0.745", "fpr": 0.337, "tpr": 0.68},
      {"fold": "Fold-4 AUC:0.745", "fpr": 0.379, "tpr": 0.711},
      {"fold": "Fold-4 AUC:0.745", "fpr": 0.412, "tpr": 0.723},
      {"fold": "Fold-4 AUC:0.745", "fpr": 0.418, "tpr": 0.738},
      {"fold": "Fold-4 AUC:0.745", "fpr": 0.433, "tpr": 0.747},
      {"fold": "Fold-4 AUC:0.745", "fpr": 0.445, "tpr": 0.756},
      {"fold": "Fold-4 AUC:0.745", "fpr": 0.457, "tpr": 0.765},
      {"fold": "Fold-4 AUC:0.745", "fpr": 0.474, "tpr": 0.78},
      {"fold": "Fold-4 AUC:0.745", "fpr": 0.49, "tpr": 0.79},
      {"fold": "Fold-4 AUC:0.745", "fpr": 0.50, "tpr": 0.82},
      {"fold": "Fold-4 AUC:0.745", "fpr": 0.54, "tpr": 0.843},
      {"fold": "Fold-4 AUC:0.745", "fpr": 0.62, "tpr": 0.894},
      {"fold": "Fold-4 AUC:0.745", "fpr": 0.67, "tpr": 0.916},
      {"fold": "Fold-4 AUC:0.745", "fpr": 0.73, "tpr": 0.928},
      {"fold": "Fold-4 AUC:0.745", "fpr": 0.74, "tpr": 0.937},
      {"fold": "Fold-4 AUC:0.745", "fpr": 0.77, "tpr": 0.949},
      {"fold": "Fold-4 AUC:0.745", "fpr": 0.79, "tpr": 0.961},
      {"fold": "Fold-4 AUC:0.745", "fpr": 0.925, "tpr": 0.991},
      {"fold": "Fold-4 AUC:0.745", "fpr": 1, "tpr": 1},

      {"fold": "Fold-5 AUC:0.706", "fpr": 0, "tpr": 0},
      {"fold": "Fold-5 AUC:0.706", "fpr": 0.002, "tpr": 0.126},
      {"fold": "Fold-5 AUC:0.706", "fpr": 0.01, "tpr": 0.24},
      {"fold": "Fold-5 AUC:0.706", "fpr": 0.017, "tpr": 0.274},
      {"fold": "Fold-5 AUC:0.706", "fpr": 0.032, "tpr": 0.31},
      {"fold": "Fold-5 AUC:0.706", "fpr": 0.047, "tpr": 0.316},
      {"fold": "Fold-5 AUC:0.706", "fpr": 0.059, "tpr": 0.34},
      {"fold": "Fold-5 AUC:0.706", "fpr": 0.08, "tpr": 0.356},
      {"fold": "Fold-5 AUC:0.706", "fpr": 0.0975, "tpr": 0.40},
      {"fold": "Fold-5 AUC:0.706", "fpr": 0.14, "tpr": 0.42},
      {"fold": "Fold-5 AUC:0.706", "fpr": 0.145, "tpr": 0.434},
      {"fold": "Fold-5 AUC:0.706", "fpr": 0.169, "tpr": 0.458},
      {"fold": "Fold-5 AUC:0.706", "fpr": 0.202, "tpr": 0.485},
      {"fold": "Fold-5 AUC:0.706", "fpr": 0.226, "tpr": 0.497},
      {"fold": "Fold-5 AUC:0.706", "fpr": 0.232, "tpr": 0.518},
      {"fold": "Fold-5 AUC:0.706", "fpr": 0.241, "tpr": 0.524},
      {"fold": "Fold-5 AUC:0.706", "fpr": 0.283, "tpr": 0.548},
      {"fold": "Fold-5 AUC:0.706", "fpr": 0.301, "tpr": 0.566},
      {"fold": "Fold-5 AUC:0.706", "fpr": 0.325, "tpr": 0.602},
      {"fold": "Fold-5 AUC:0.706", "fpr": 0.358, "tpr": 0.65},
      {"fold": "Fold-5 AUC:0.706", "fpr": 0.367, "tpr": 0.662},
      {"fold": "Fold-5 AUC:0.706", "fpr": 0.394, "tpr": 0.692},
      {"fold": "Fold-5 AUC:0.706", "fpr": 0.412, "tpr": 0.704},
      {"fold": "Fold-5 AUC:0.706", "fpr": 0.448, "tpr": 0.713},
      {"fold": "Fold-5 AUC:0.706", "fpr": 0.471, "tpr": 0.725},
      {"fold": "Fold-5 AUC:0.706", "fpr": 0.477, "tpr": 0.747},
      {"fold": "Fold-5 AUC:0.706", "fpr": 0.49, "tpr": 0.78},
      {"fold": "Fold-5 AUC:0.706", "fpr": 0.53, "tpr": 0.789},
      {"fold": "Fold-5 AUC:0.706", "fpr": 0.55, "tpr": 0.80},
      {"fold": "Fold-5 AUC:0.706", "fpr": 0.58, "tpr": 0.81},
      {"fold": "Fold-5 AUC:0.706", "fpr": 0.597, "tpr": 0.822},
      {"fold": "Fold-5 AUC:0.706", "fpr": 0.615, "tpr": 0.831},
      {"fold": "Fold-5 AUC:0.706", "fpr": 0.68, "tpr": 0.843},
      {"fold": "Fold-5 AUC:0.706", "fpr": 0.705, "tpr": 0.864},
      {"fold": "Fold-5 AUC:0.706", "fpr": 0.726, "tpr": 0.876},
      {"fold": "Fold-5 AUC:0.706", "fpr": 0.76, "tpr": 0.885},
      {"fold": "Fold-5 AUC:0.706", "fpr": 0.79, "tpr": 0.913},
      {"fold": "Fold-5 AUC:0.706", "fpr": 0.80, "tpr": 0.928},
      {"fold": "Fold-5 AUC:0.706", "fpr": 0.855, "tpr": 0.94},
      {"fold": "Fold-5 AUC:0.706", "fpr": 0.86, "tpr": 0.97},
      {"fold": "Fold-5 AUC:0.706", "fpr": 0.921, "tpr": 0.979},
      {"fold": "Fold-5 AUC:0.706", "fpr": 0.97, "tpr": 0.988},
      {"fold": "Fold-5 AUC:0.706", "fpr": 0.99, "tpr": 0.997},
      {"fold": "Fold-5 AUC:0.706", "fpr": 1, "tpr": 1}
    ]
  },
  "vconcat": [
    {
      "width": 557, "height": 552,
      "title": {"text": ["(a) ROC curves from the 5 cross-validation folds (i.e. internal", "dataset)."], "orient": "bottom", "anchor": "start", "dx": -79, "fontSize": 28, "lineHeight": 29, "offset": 46},
      "layer": [
        {
          "data": {"name": "a"},
          "mark": {"type": "line", "interpolate": "step-after", "strokeWidth": 2.4},
          "encoding": {
            "x": {"field": "fpr", "type": "quantitative", "scale": {"domain": [0, 1], "nice": false}, "axis": {"title": "False Positive Rate", "values": [0, 0.2, 0.4, 0.6, 0.8, 1], "format": ".1f", "titlePadding": 7}},
            "y": {"field": "tpr", "type": "quantitative", "scale": {"domain": [0, 1], "nice": false}, "axis": {"title": "True Positive Rate", "values": [0, 0.2, 0.4, 0.6, 0.8, 1], "format": ".1f", "titlePadding": 7}},
            "color": {"field": "fold", "type": "nominal", "scale": {"domain": ["Fold-1 AUC:0.774", "Fold-2 AUC:0.728", "Fold-3 AUC:0.774", "Fold-4 AUC:0.772", "Fold-5 AUC:0.768"], "range": ["#78b57c", "#d0545b", "#e8b050", "#6aa2b3", "#6b4a98"]}, "legend": {"title": null}},
            "order": [{"field": "fpr", "type": "quantitative"}, {"field": "tpr", "type": "quantitative"}]
          }
        },
        {
          "data": {"name": "diag"},
          "mark": {"type": "line", "color": "#000000", "strokeWidth": 2.6, "strokeDash": [8, 4.5]},
          "encoding": {
            "x": {"field": "fpr", "type": "quantitative"},
            "y": {"field": "tpr", "type": "quantitative"}
          }
        }
      ]
    },
    {
      "width": 557, "height": 553,
      "title": {"text": "(b) ROC curves from inference on the external dataset.", "orient": "bottom", "anchor": "middle", "dx": -15, "fontSize": 28, "offset": 28},
      "layer": [
        {
          "data": {"name": "b"},
          "mark": {"type": "line", "interpolate": "step-after", "strokeWidth": 2.4},
          "encoding": {
            "x": {"field": "fpr", "type": "quantitative", "scale": {"domain": [0, 1], "nice": false}, "axis": {"title": "False Positive Rate", "values": [0, 0.2, 0.4, 0.6, 0.8, 1], "format": ".1f", "titlePadding": 7}},
            "y": {"field": "tpr", "type": "quantitative", "scale": {"domain": [0, 1], "nice": false}, "axis": {"title": "True Positive Rate", "values": [0, 0.2, 0.4, 0.6, 0.8, 1], "format": ".1f", "titlePadding": 7}},
            "color": {"field": "fold", "type": "nominal", "scale": {"domain": ["Fold-1 AUC:0.731", "Fold-2 AUC:0.733", "Fold-3 AUC:0.740", "Fold-4 AUC:0.745", "Fold-5 AUC:0.706"], "range": ["#78b57c", "#d0545b", "#e8b050", "#6aa2b3", "#6b4a98"]}, "legend": {"title": null}},
            "order": [{"field": "fpr", "type": "quantitative"}, {"field": "tpr", "type": "quantitative"}]
          }
        },
        {
          "data": {"name": "diag"},
          "mark": {"type": "line", "color": "#000000", "strokeWidth": 2.6, "strokeDash": [8, 4.5]},
          "encoding": {
            "x": {"field": "fpr", "type": "quantitative"},
            "y": {"field": "tpr", "type": "quantitative"}
          }
        }
      ]
    }
  ],
  "spacing": 48,
  "resolve": {"scale": {"color": "independent", "x": "independent", "y": "independent"}, "legend": {"color": "independent"}}
}
